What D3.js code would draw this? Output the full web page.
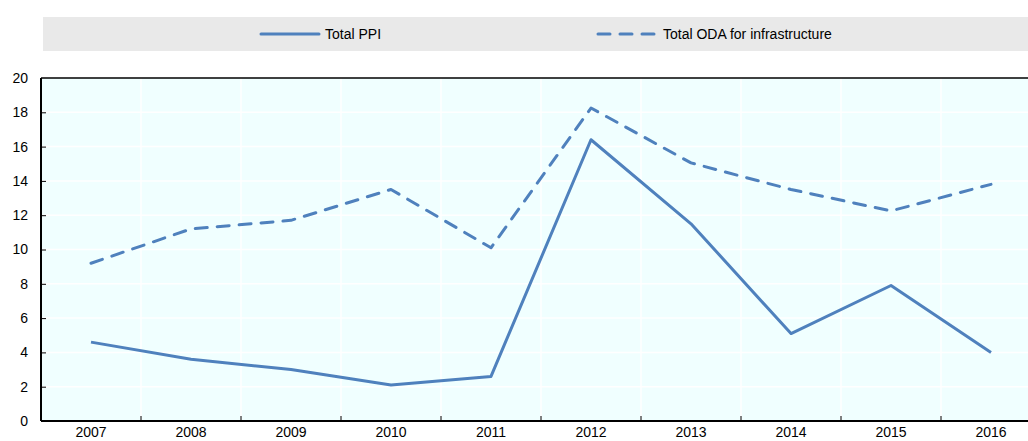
<!DOCTYPE html>
<html><head><meta charset="utf-8">
<script src="https://cdn.jsdelivr.net/npm/d3@7"></script>
<style>body{margin:0;background:#fff;}svg{display:block;font-family:"Liberation Sans",Arial,sans-serif;}</style>
</head><body>
<svg id="c" width="1028" height="441"></svg>
<script>
const years = ["2007","2008","2009","2010","2011","2012","2013","2014","2015","2016"];
const totalPPI = [4.6, 3.6, 3.0, 2.1, 2.6, 16.4, 11.5, 5.1, 7.9, 4.0];
const totalODA = [9.2, 11.2, 11.7, 13.5, 10.1, 18.25, 15.05, 13.5, 12.25, 13.8];
const yTicks = [0, 2, 4, 6, 8, 10, 12, 14, 16, 18, 20];
const seriesNames = ["Total PPI", "Total ODA for infrastructure"];

const svg = d3.select("#c");
const L = 41, R = 1041, T = 78, B = 421;
const color = "#4f81bd";
const dash = "12,10";
const x = d3.scaleBand().domain(years).range([L, R]);
const y = d3.scaleLinear().domain([0, 20]).range([B, T]);

// legend
svg.append("rect").attr("x", 43).attr("y", 17).attr("width", 985).attr("height", 34).attr("fill", "#e9e9e9");
const leg = [{x1: 261, x2: 319, dash: null, tx: 325}, {x1: 598, x2: 657, dash: dash, tx: 663}];
leg.forEach((d, i) => {
  svg.append("line").attr("x1", d.x1).attr("x2", d.x2).attr("y1", 34).attr("y2", 34)
    .attr("stroke", color).attr("stroke-width", 3).attr("stroke-linecap", "round")
    .attr("stroke-dasharray", d.dash);
  svg.append("text").attr("x", d.tx).attr("y", 39).attr("font-size", 14).attr("fill", "#000").text(seriesNames[i]);
});

// plot bg
svg.append("rect").attr("x", L).attr("y", T).attr("width", R - L).attr("height", B - T).attr("fill", "#f0ffff");
// grid
svg.append("g").selectAll("line").data(yTicks.slice(1, -1)).join("line")
  .attr("x1", L).attr("x2", R).attr("y1", d => y(d)).attr("y2", d => y(d))
  .attr("stroke", "#fff").attr("stroke-width", 1.5);
svg.append("g").selectAll("line").data(years.slice(1)).join("line")
  .attr("x1", d => x(d)).attr("x2", d => x(d)).attr("y1", T).attr("y2", B)
  .attr("stroke", "#fff").attr("stroke-width", 1.5);

// axes
const yAxis = svg.append("g").attr("transform", `translate(${L},0)`)
  .call(d3.axisLeft(y).tickValues(yTicks).tickSize(-5).tickPadding(13).tickFormat(d3.format("d")));
yAxis.select(".domain").remove();
yAxis.selectAll("line").attr("stroke", "#000");
yAxis.selectAll("text").attr("font-size", 14).attr("fill", "#000").attr("font-family", "Liberation Sans, Arial, sans-serif");
yAxis.selectAll(".tick").filter(d => d === 0 || d === 20).select("line").remove();

const xAxis = svg.append("g").attr("transform", `translate(0,${B})`)
  .call(d3.axisBottom(x).tickSize(0).tickPadding(6));
xAxis.select(".domain").remove();
xAxis.selectAll("text").attr("font-size", 14).attr("fill", "#000").attr("font-family", "Liberation Sans, Arial, sans-serif");
svg.append("g").selectAll("line").data(years.slice(1)).join("line")
  .attr("x1", d => x(d)).attr("x2", d => x(d)).attr("y1", B).attr("y2", B - 5)
  .attr("stroke", "#000").attr("stroke-width", 1);

svg.append("line").attr("x1", L).attr("x2", R).attr("y1", T).attr("y2", T).attr("stroke", "#000").attr("stroke-width", 1.5);
svg.append("line").attr("x1", L).attr("x2", R).attr("y1", B).attr("y2", B).attr("stroke", "#000").attr("stroke-width", 2);
svg.append("line").attr("x1", L).attr("x2", L).attr("y1", T).attr("y2", B).attr("stroke", "#000").attr("stroke-width", 2);

// lines
const line = d3.line().x((d, i) => x(years[i]) + x.bandwidth() / 2).y(d => y(d));
svg.append("path").datum(totalODA).attr("d", line).attr("fill", "none").attr("stroke", color)
  .attr("stroke-width", 3).attr("stroke-dasharray", dash).attr("stroke-linecap", "round").attr("stroke-linejoin", "round");
svg.append("path").datum(totalPPI).attr("d", line).attr("fill", "none").attr("stroke", color)
  .attr("stroke-width", 3).attr("stroke-linejoin", "round");
</script>
</body></html>
